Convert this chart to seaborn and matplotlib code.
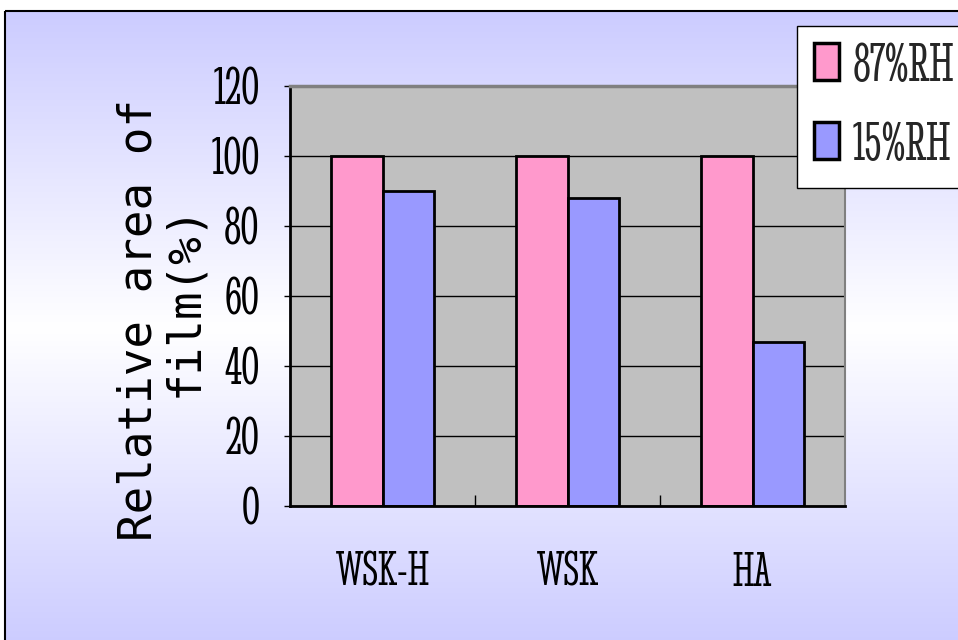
import matplotlib
matplotlib.use("Agg")
import matplotlib.pyplot as plt
from matplotlib.patches import Rectangle, Patch
from matplotlib.colors import LinearSegmentedColormap
import numpy as np
import pandas as pd
import seaborn as sns

# ---- data ----
samples = ["WSK-H", "WSK", "HA"]
conditions = ["87%RH", "15%RH"]
rh87 = [100, 100, 100]
rh15 = [90, 88, 47]
yticks = [0, 20, 40, 60, 80, 100, 120]
ylabel_line1 = "Relative area of"
ylabel_line2 = "film(%)"

pink = "#FF99CC"
blue = "#9999FF"

df = pd.DataFrame({
    "sample": samples * 2,
    "condition": [conditions[0]] * 3 + [conditions[1]] * 3,
    "area": rh87 + rh15,
})

sns.set_theme(style="white")
TICKFONT = ["Stint Ultra Condensed", "DejaVu Serif"]
LABFONT = ["DejaVu Sans Mono", "Liberation Mono"]

W, H = 958, 640
fig = plt.figure(figsize=(W / 100, H / 100), dpi=100)
fig.patch.set_facecolor("white")

# background gradient + frame
bg = fig.add_axes([0, 0, 1, 1], zorder=-10)
bg.axis("off")
cmap = LinearSegmentedColormap.from_list(
    "g", [(0.0, "#CCCCFF"), (0.5, "#FFFFFF"), (1.0, "#CCCCFF")])
grad = np.linspace(0, 1, 400).reshape(-1, 1)
bg.imshow(grad, cmap=cmap, aspect="auto", extent=(5, W + 20, H + 5, 11),
          interpolation="bicubic")
bg.add_patch(Rectangle((5, 11), W + 50, H + 50, fill=False,
                       edgecolor="black", linewidth=1.5))
bg.set_xlim(0, W)
bg.set_ylim(H, 0)

# main axes
L, R, T, B = 290, 845, 86, 506
ax = fig.add_axes([L / W, 1 - B / H, (R - L) / W, (B - T) / H])
ax.set_facecolor("#C0C0C0")
sns.barplot(data=df, x="sample", y="area", hue="condition",
            palette=[pink, blue], width=0.56, saturation=1,
            edgecolor="black", linewidth=2, ax=ax, legend=False)
ax.set_axisbelow(True)
ax.set_ylim(0, 120)
ax.set_xlim(-0.5, 2.5)
ax.set_yticks(yticks)
ax.yaxis.grid(True, color="black", linewidth=1)
ax.xaxis.grid(False)
ax.set_xlabel("")
ax.set_ylabel("")
for s in ["left", "bottom"]:
    ax.spines[s].set_color("black")
    ax.spines[s].set_linewidth(2)
ax.spines["top"].set_color("#808080")
ax.spines["top"].set_linewidth(2.5)
ax.spines["right"].set_color("#808080")
ax.spines["right"].set_linewidth(1.5)

ax.tick_params(axis="y", which="major", length=4, width=1, color="black",
               direction="out", pad=18, left=True)
ax.tick_params(axis="x", which="major", length=0, pad=33)
ax.set_xticks(range(len(samples)))
ax.set_xticklabels(samples)
ax.set_xticks([0.5, 1.5], minor=True)
ax.tick_params(axis="x", which="minor", length=8, width=1, color="black",
               direction="in", bottom=True)
for lab in ax.get_yticklabels():
    lab.set_family(TICKFONT)
    lab.set_fontsize(39)
    lab.set_color("black")
for lab in ax.get_xticklabels():
    lab.set_family(TICKFONT)
    lab.set_fontsize(35)
    lab.set_color("black")

# y label (two lines)
fig.text(152 / W, 1 - 320 / H, ylabel_line1, rotation=90, rotation_mode="anchor",
         ha="center", va="baseline", family=LABFONT, fontsize=33, color="black")
fig.text(197 / W, 1 - 300 / H, ylabel_line2, rotation=90, rotation_mode="anchor",
         ha="center", va="baseline", family=LABFONT, fontsize=33, color="black")

# legend
handles = [Patch(facecolor=pink, edgecolor="black", linewidth=2.5),
           Patch(facecolor=blue, edgecolor="black", linewidth=2.5)]
leg = fig.legend(handles, conditions, loc="upper left",
                 bbox_to_anchor=(797 / W, 1 - 26 / H), bbox_transform=fig.transFigure,
                 prop={"family": TICKFONT, "size": 40},
                 frameon=True, fancybox=False, shadow=False, framealpha=1,
                 edgecolor="black", facecolor="white",
                 handlelength=0.45, handleheight=0.65, handletextpad=0.25,
                 borderpad=0.3, labelspacing=0.55, borderaxespad=0)
leg.get_frame().set_linewidth(1)

fig.savefig("out.png", dpi=100)
